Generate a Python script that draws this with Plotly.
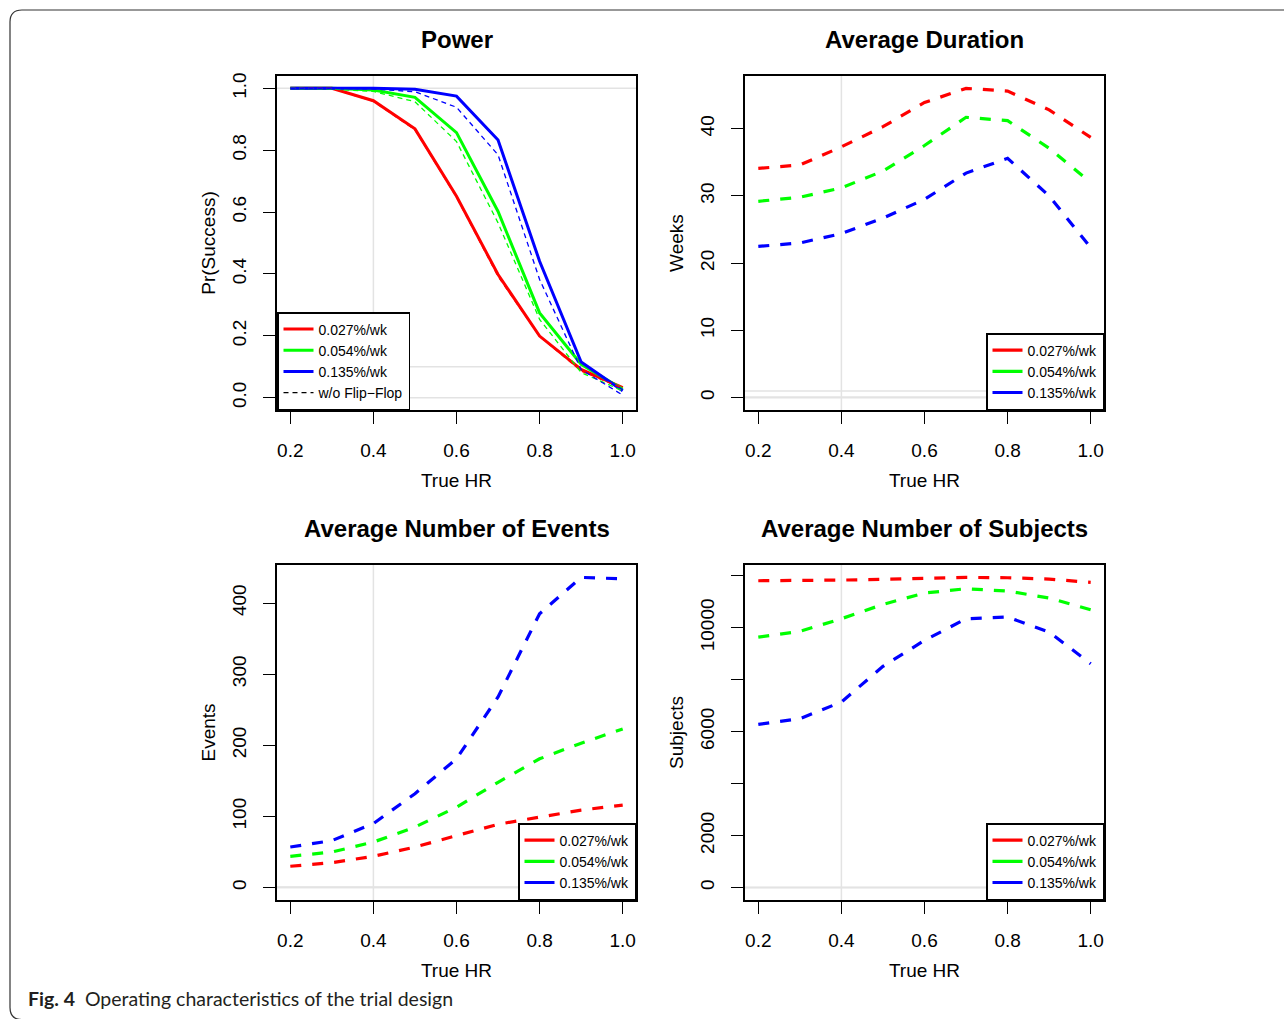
import plotly.graph_objects as go

# ---------------- data ----------------
hr = [0.2, 0.3, 0.4, 0.5, 0.6, 0.7, 0.8, 0.9, 1.0]
rates = ["0.027%/wk", "0.054%/wk", "0.135%/wk"]
colors = ["#FF0000", "#00FF00", "#0000FF"]

# Power: with flip-flop (solid) and without flip-flop (dashed)
power_red = [1.0, 1.0, 0.960, 0.869, 0.651, 0.398, 0.199, 0.091, 0.032]
power_green = [1.0, 1.0, 0.995, 0.971, 0.857, 0.602, 0.274, 0.108, 0.027]
power_blue = [1.0, 1.0, 1.0, 0.997, 0.975, 0.833, 0.441, 0.115, 0.022]
power_red_noff = [1.0, 1.0, 0.958, 0.866, 0.648, 0.392, 0.198, 0.086, 0.030]
power_green_noff = [1.0, 0.998, 0.990, 0.957, 0.828, 0.565, 0.253, 0.081, 0.022]
power_blue_noff = [1.0, 1.0, 0.998, 0.989, 0.939, 0.785, 0.382, 0.091, 0.008]

# Average duration (weeks)
dur_red = [34.1, 34.6, 37.3, 40.3, 43.9, 46.0, 45.6, 42.8, 38.7]
dur_green = [29.2, 29.8, 31.2, 33.7, 37.5, 41.7, 41.2, 37.1, 32.0]
dur_blue = [22.5, 23.0, 24.4, 26.7, 29.5, 33.4, 35.6, 30.0, 22.3]

# Average number of events
ev_red = [30, 35, 44, 57, 73, 89, 99, 109, 116]
ev_green = [44, 50, 64, 85, 113, 148, 181, 203, 223]
ev_blue = [57, 66, 90, 132, 181, 268, 385, 436, 434]

# Average number of subjects
subj_red = [11808, 11815, 11833, 11860, 11897, 11936, 11923, 11872, 11744]
subj_green = [9641, 9859, 10346, 10897, 11333, 11500, 11410, 11141, 10692]
subj_blue = [6282, 6500, 7141, 8513, 9513, 10346, 10410, 9833, 8615]

x_ticks = [0.2, 0.4, 0.6, 0.8, 1.0]
x_ticktext = ["0.2", "0.4", "0.6", "0.8", "1.0"]
power_ticks = [0.0, 0.2, 0.4, 0.6, 0.8, 1.0]
power_ticktext = ["0.0", "0.2", "0.4", "0.6", "0.8", "1.0"]
dur_ticks = [0, 10, 20, 30, 40]
ev_ticks = [0, 100, 200, 300, 400]
subj_ticks = [0, 2000, 4000, 6000, 8000, 10000, 12000]
subj_ticktext = ["0", "2000", "", "6000", "", "10000", ""]

ref_h = [0, 0.1, 1]
ref_v = 0.4

titles = ["Power", "Average Duration", "Average Number of Events", "Average Number of Subjects"]
ytitles = ["Pr(Success)", "Weeks", "Events", "Subjects"]
xtitle = "True HR"
noff_label = "w/o Flip\u2212Flop"
caption_bold = "Fig. 4"
caption_text = "Operating characteristics of the trial design"

# ---------------- layout helpers ----------------
W, H = 1284, 1019
def px(x):
    return x / W
def py(y):
    return 1 - y / H

FONT = "Liberation Sans, Arial, Helvetica, sans-serif"
boxes = {  # left, right, top, bottom in pixels
    1: (277, 636, 76, 410),
    2: (745, 1104, 76, 410),
    3: (277, 636, 565, 900),
    4: (745, 1104, 565, 900),
}

fig = go.Figure()

def ax(i):
    return ("x" if i == 1 else f"x{i}"), ("y" if i == 1 else f"y{i}")

# Power panel
xa, ya = ax(1)
for vals, col, name in zip([power_red, power_green, power_blue], colors, rates):
    fig.add_trace(go.Scatter(x=hr, y=vals, mode="lines", name=name,
                             line=dict(color=col, width=3), xaxis=xa, yaxis=ya,
                             legend="legend"))
for vals, col, name in zip([power_red_noff, power_green_noff, power_blue_noff], colors, rates):
    fig.add_trace(go.Scatter(x=hr, y=vals, mode="lines", name=name + " w/o flip-flop",
                             line=dict(color=col, width=1.3, dash="5px,4px"),
                             xaxis=xa, yaxis=ya, showlegend=False))
fig.add_trace(go.Scatter(x=[None], y=[None], mode="lines", name=noff_label,
                         line=dict(color="black", width=1.3, dash="5px,4px"),
                         xaxis=xa, yaxis=ya, legend="legend"))

# Other panels: dashed curves, solid legend keys
panel_data = {
    2: [dur_red, dur_green, dur_blue],
    3: [ev_red, ev_green, ev_blue],
    4: [subj_red, subj_green, subj_blue],
}
for i, series in panel_data.items():
    xa, ya = ax(i)
    for vals, col, name in zip(series, colors, rates):
        fig.add_trace(go.Scatter(x=hr, y=vals, mode="lines", name=name,
                                 line=dict(color=col, width=3.2, dash="11px,11px"),
                                 xaxis=xa, yaxis=ya, showlegend=False))
    for col, name in zip(colors, rates):
        fig.add_trace(go.Scatter(x=[None], y=[None], mode="lines", name=name,
                                 line=dict(color=col, width=3.2),
                                 xaxis=xa, yaxis=ya, legend=f"legend{i}"))

# axes
def yrange(series):
    lo, hi = 0, max(max(s) for s in series)
    d = hi - lo
    return [lo - 0.04 * d, hi + 0.04 * d]

xr = [0.2 - 0.04 * 0.8, 1.0 + 0.04 * 0.8]
yranges = {
    1: [-0.04, 1.04],
    2: yrange(panel_data[2]),
    3: yrange(panel_data[3]),
    4: yrange(panel_data[4]),
}
yticks = {1: (power_ticks, power_ticktext), 2: (dur_ticks, [str(v) for v in dur_ticks]),
          3: (ev_ticks, [str(v) for v in ev_ticks]), 4: (subj_ticks, subj_ticktext)}

common = dict(showline=True, linecolor="black", linewidth=1.5, mirror=True,
              ticks="outside", ticklen=12, tickwidth=1.2, tickcolor="black",
              showgrid=False, zeroline=False, automargin=False,
              tickfont=dict(family=FONT, size=19, color="black"))
for i, (l, r, t, b) in boxes.items():
    xa, ya = ax(i)
    xkey = "xaxis" if i == 1 else f"xaxis{i}"
    ykey = "yaxis" if i == 1 else f"yaxis{i}"
    fig.update_layout(**{
        xkey: dict(domain=[px(l), px(r)], range=xr, anchor=ya,
                   tickvals=x_ticks, ticktext=x_ticktext, ticklabelstandoff=10,
                   title=dict(text=xtitle, font=dict(family=FONT, size=19, color="black"), standoff=14),
                   **common),
        ykey: dict(domain=[py(b), py(t)], range=yranges[i], anchor=xa,
                   tickvals=yticks[i][0], ticktext=yticks[i][1], tickangle=-90,
                   ticklabelstandoff=10,
                   title=dict(text=ytitles[i - 1], font=dict(family=FONT, size=19, color="black"), standoff=8),
                   **common),
    })
    # reference lines
    fig.add_shape(type="line", xref=xa, yref=f"{ya} domain", x0=ref_v, x1=ref_v, y0=0, y1=1,
                  line=dict(color="#E3E3E3", width=1.5), layer="below")
    for h in ref_h:
        fig.add_shape(type="line", xref=f"{xa} domain", yref=ya, x0=0, x1=1, y0=h, y1=h,
                      line=dict(color="#E3E3E3", width=1.5), layer="below")
    # panel title
    fig.add_annotation(text=f"<b>{titles[i - 1]}</b>", xref="paper", yref="paper",
                       x=px((l + r) / 2), y=py(t - 37), xanchor="center", yanchor="middle",
                       showarrow=False, font=dict(family=FONT, size=24, color="black"))

leg_common = dict(bgcolor="white", bordercolor="black", borderwidth=1.5,
                  font=dict(family=FONT, size=14, color="black"), itemwidth=30,
                  tracegroupgap=0, orientation="v")
fig.update_layout(
    legend=dict(x=px(277), y=py(410), xanchor="left", yanchor="bottom", **leg_common),
    legend2=dict(x=px(1104), y=py(410), xanchor="right", yanchor="bottom", **leg_common),
    legend3=dict(x=px(636), y=py(900), xanchor="right", yanchor="bottom", **leg_common),
    legend4=dict(x=px(1104), y=py(900), xanchor="right", yanchor="bottom", **leg_common),
)

# outer frame with rounded corners (bottom edge just below the visible area)
r = 12
bot = 1019.6
path = (f"M {px(1300)},{py(10)} L {px(10 + r)},{py(10)} Q {px(10)},{py(10)} {px(10)},{py(10 + r)} "
        f"L {px(10)},{py(bot - r)} Q {px(10)},{py(bot)} {px(10 + r)},{py(bot)} L {px(1300)},{py(bot)}")
fig.add_shape(type="path", xref="paper", yref="paper", path=path,
              line=dict(color="#333333", width=1.2))

fig.add_annotation(text=f"<b>{caption_bold}</b>  {caption_text}", xref="paper", yref="paper",
                   x=px(26), y=py(998), xanchor="left", yanchor="middle", showarrow=False,
                   font=dict(family="Lato, Open Sans, sans-serif", size=19.5, color="#231F20"))

fig.update_layout(width=W, height=H, margin=dict(l=0, r=0, t=0, b=0),
                  paper_bgcolor="white", plot_bgcolor="white", template="none",
                  font=dict(family=FONT, color="black"))

fig.write_html("out.html", config={"displayModeBar": False},
               post_script="document.body.style.margin='0px';")
